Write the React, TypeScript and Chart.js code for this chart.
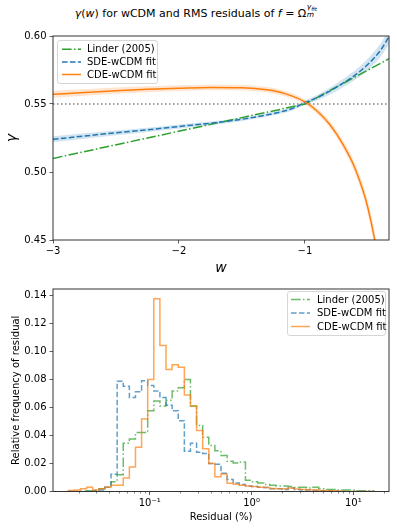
import React, { useEffect, useRef } from 'react';
import { Chart, registerables } from 'chart.js';

Chart.register(...registerables);
Chart.defaults.font.family = '"DejaVu Sans", sans-serif';
Chart.defaults.color = '#000';

// ---------------- Top panel data: gamma(w) ----------------
const wValues = [-3, -2.75, -2.5, -2.25, -2, -1.75, -1.5, -1.25, -1.1, -1, -0.9, -0.8, -0.7, -0.6, -0.5, -0.4, -0.333];
const sdeGamma = [0.524, 0.5265, 0.5288, 0.531, 0.5335, 0.5358, 0.5388, 0.543, 0.5467, 0.551, 0.5548, 0.5597, 0.5652, 0.5714, 0.5792, 0.5895, 0.5995];
const sdeErr = [0.0022, 0.002, 0.0018, 0.0016, 0.0015, 0.0014, 0.0013, 0.0013, 0.0014, 0.0016, 0.002, 0.0025, 0.003, 0.0036, 0.0043, 0.005, 0.0056];
const cdeGamma = [0.5571, 0.5585, 0.5598, 0.5608, 0.5616, 0.5622, 0.5619, 0.5597, 0.5558, 0.5515, 0.5445, 0.5345, 0.5205, 0.502, 0.4735, 0.4255, 0.38];
const cdeErr = [0.0025, 0.0024, 0.0023, 0.0022, 0.0021, 0.002, 0.002, 0.002, 0.002, 0.002, 0.0022, 0.0026, 0.003, 0.0038, 0.005, 0.007, 0.009];
const linderW = [-3, -1, -0.333];
const linderGamma = [0.51, 0.55, 0.5833];
const gammaRef = 0.55;
const topXMin = -3;
const topXMax = -0.333;
const topYMin = 0.45;
const topYMax = 0.6;
const topXTicks = [-3, -2, -1];
const topXTickLabels = ['−3', '−2', '−1'];
const topYTicks = [0.45, 0.5, 0.55, 0.6];
const topYTickLabels = ['0.45', '0.50', '0.55', '0.60'];
const seriesLabels = ['Linder (2005)', 'SDE-wCDM fit', 'CDE-wCDM fit'];

// ---------------- Bottom panel data: residual histograms ----------------
const binLogStart = -1.8;
const binLogWidth = 0.06;
const histLinder = [
  0, 0, 0, 0.0005, 0.001, 0.002, 0.003, 0.007, 0.012, 0.0344,
  0.0375, 0.042, 0.042, 0.0575, 0.0645, 0.061, 0.065, 0.0716, 0.0739, 0.0798,
  0.061, 0.047, 0.0386, 0.0328, 0.029, 0.0257, 0.0215, 0.0203, 0.021, 0.008,
  0.007, 0.006, 0.005, 0.0045, 0.004, 0.004, 0.0035, 0.003, 0.003, 0.0025,
  0.003, 0.002, 0.0015, 0.0015, 0.001, 0.001, 0.001, 0.0005, 0.0005, 0.0005,
];
const histSDE = [
  0, 0, 0, 0, 0.0005, 0.001, 0.003, 0.0123, 0.0786, 0.075,
  0.067, 0.071, 0.079, 0.0756, 0.0716, 0.0669, 0.0615, 0.0575, 0.0505, 0.0286,
  0.0344, 0.028, 0.027, 0.02, 0.0195, 0.013, 0.0085, 0.006, 0.005, 0.004,
  0.0035, 0.003, 0.0028, 0.002, 0.002, 0.0015, 0.0025, 0.0015, 0.001, 0.001,
  0.0008, 0.0005, 0.0005, 0.0003, 0, 0, 0, 0, 0, 0,
];
const histCDE = [
  0.0008, 0.001, 0.002, 0.003, 0.001, 0.002, 0.003, 0.0044, 0.0044, 0.0097,
  0.0175, 0.0316, 0.0516, 0.0798, 0.1374, 0.104, 0.0869, 0.0904, 0.0885, 0.0688,
  0.061, 0.0434, 0.0305, 0.0199, 0.0105, 0.0125, 0.0058, 0.0052, 0.0045, 0.004,
  0.0035, 0.003, 0.0028, 0.0022, 0.002, 0.002, 0.0025, 0.0018, 0.0015, 0.0012,
  0.001, 0.0008, 0.0005, 0.0005, 0.0003, 0, 0, 0, 0, 0,
];
const botXMin = Math.pow(10, -1.95);
const botXMax = Math.pow(10, 1.35);
const botYMax = 0.1443;
const botXTicks = [0.1, 1, 10];
const botXTickLabels = ['10⁻¹', '10⁰', '10¹'];
const botYTicks = [0, 0.02, 0.04, 0.06, 0.08, 0.1, 0.12, 0.14];
const botYTickLabels = ['0.00', '0.02', '0.04', '0.06', '0.08', '0.10', '0.12', '0.14'];

// ---------------- styling ----------------
const GREEN = '#2ca02c';
const BLUE = '#1f77b4';
const ORANGE = '#ff7f0e';
const DASH_DOT = [9.6, 2.4, 1.5, 2.4];
const DASHED = [5.55, 2.4];

const toPts = (xs: number[], ys: number[]) => xs.map((x, i) => ({ x, y: ys[i] }));

function histStep(values: number[]) {
  const edges = values.map((_, i) => Math.pow(10, binLogStart + i * binLogWidth));
  edges.push(Math.pow(10, binLogStart + values.length * binLogWidth));
  const pts = [{ x: edges[0], y: 0 }];
  values.forEach((v, i) => pts.push({ x: edges[i], y: v }));
  pts.push({ x: edges[values.length], y: 0 });
  return pts;
}

type LegendItem = { label: string; color: string; dash: number[] };
function makeLegend(id: string, cfg: { left: number; top: number; width: number; height: number; rows: number[]; sx0: number; sx1: number; tx: number; items: LegendItem[] }) {
  return {
    id,
    afterDraw(chart: any) {
      const ctx = chart.ctx as CanvasRenderingContext2D;
      ctx.save();
      ctx.beginPath();
      (ctx as any).roundRect(cfg.left + 0.5, cfg.top + 0.5, cfg.width, cfg.height, 2.5);
      ctx.fillStyle = 'rgba(255,255,255,0.8)';
      ctx.fill();
      ctx.strokeStyle = '#cccccc';
      ctx.lineWidth = 0.8;
      ctx.stroke();
      cfg.items.forEach((it, i) => {
        const y = cfg.rows[i];
        ctx.beginPath();
        ctx.setLineDash(it.dash);
        ctx.strokeStyle = it.color;
        ctx.lineWidth = 1.5;
        ctx.moveTo(cfg.sx0, y);
        ctx.lineTo(cfg.sx1, y);
        ctx.stroke();
        ctx.setLineDash([]);
        ctx.fillStyle = '#000';
        ctx.font = '10px "DejaVu Sans"';
        ctx.textBaseline = 'middle';
        ctx.textAlign = 'left';
        ctx.fillText(it.label, cfg.tx, y + 0.5);
      });
      ctx.restore();
    },
  };
}

const framePlugin = {
  id: 'frame',
  afterDraw(chart: any) {
    const { left, top, right, bottom } = chart.chartArea;
    const ctx = chart.ctx as CanvasRenderingContext2D;
    ctx.save();
    ctx.strokeStyle = '#333';
    ctx.lineWidth = 1;
    ctx.strokeRect(left, top, right - left, bottom - top);
    ctx.restore();
  },
};

const minorTickPlugin = {
  id: 'minorTicks',
  afterDraw(chart: any) {
    const sx = chart.scales.x;
    const ctx = chart.ctx as CanvasRenderingContext2D;
    const bottom = chart.chartArea.bottom;
    ctx.save();
    ctx.strokeStyle = '#333';
    ctx.lineWidth = 0.6;
    for (let k = -2; k <= 1; k++) {
      for (let m = 2; m <= 9; m++) {
        const v = m * Math.pow(10, k);
        if (v < botXMin || v > botXMax) continue;
        const px = Math.round(sx.getPixelForValue(v)) + 0.5;
        ctx.beginPath();
        ctx.moveTo(px, bottom);
        ctx.lineTo(px, bottom + 2);
        ctx.stroke();
      }
    }
    ctx.restore();
  },
};

const tickFont = { size: 10, family: '"DejaVu Sans"' };
const gridOpts = { display: true, drawOnChartArea: false, drawTicks: true, tickLength: 3.5, tickColor: '#333', tickWidth: 0.8 };

function TopChart() {
  const ref = useRef<HTMLCanvasElement>(null);
  useEffect(() => {
    const sdeLow = sdeGamma.map((g, i) => g - sdeErr[i]);
    const sdeHigh = sdeGamma.map((g, i) => g + sdeErr[i]);
    const cdeLow = cdeGamma.map((g, i) => g - cdeErr[i]);
    const cdeHigh = cdeGamma.map((g, i) => g + cdeErr[i]);
    const base = { pointRadius: 0, cubicInterpolationMode: 'monotone' as const };
    const chart = new Chart(ref.current!, {
      type: 'line',
      data: {
        datasets: [
          { ...base, label: 'sdeLow', data: toPts(wValues, sdeLow), borderWidth: 0, fill: false, order: 10 },
          { ...base, label: 'sdeHigh', data: toPts(wValues, sdeHigh), borderWidth: 0, fill: '-1', backgroundColor: 'rgba(31,119,180,0.2)', order: 9 },
          { ...base, label: 'cdeLow', data: toPts(wValues, cdeLow), borderWidth: 0, fill: false, order: 8 },
          { ...base, label: 'cdeHigh', data: toPts(wValues, cdeHigh), borderWidth: 0, fill: '-1', backgroundColor: 'rgba(255,127,14,0.2)', order: 7 },
          { pointRadius: 0, label: 'ref', data: [{ x: topXMin, y: gammaRef }, { x: topXMax, y: gammaRef }], borderColor: '#808080', borderWidth: 1.5, borderDash: [1.5, 2.5], order: 6 },
          { pointRadius: 0, label: seriesLabels[0], data: toPts(linderW, linderGamma), borderColor: GREEN, borderWidth: 1.5, borderDash: DASH_DOT, order: 3 },
          { ...base, label: seriesLabels[1], data: toPts(wValues, sdeGamma), borderColor: BLUE, borderWidth: 1.5, borderDash: DASHED, order: 2 },
          { ...base, label: seriesLabels[2], data: toPts(wValues, cdeGamma), borderColor: ORANGE, borderWidth: 1.5, order: 1 },
        ],
      },
      options: {
        animation: false,
        responsive: false,
        devicePixelRatio: 1,
        layout: { padding: { top: 10, right: 8, left: 0, bottom: 0 } },
        plugins: { legend: { display: false }, tooltip: { enabled: false } },
        scales: {
          x: {
            type: 'linear',
            min: topXMin,
            max: topXMax,
            afterBuildTicks: (s: any) => { s.ticks = topXTicks.map((v) => ({ value: v })); },
            afterFit: (s: any) => { s.height = 40; },
            ticks: { font: tickFont, color: '#000', padding: 2, maxRotation: 0, callback: (_v: any, i: number) => topXTickLabels[i] },
            grid: gridOpts,
            border: { display: false },
            title: { display: true, text: 'w', font: { size: 14, style: 'italic', family: '"DejaVu Sans"' }, padding: { top: 0, bottom: 3.6 } },
          },
          y: {
            type: 'linear',
            min: topYMin,
            max: topYMax,
            afterBuildTicks: (s: any) => { s.ticks = topYTicks.map((v) => ({ value: v })); },
            afterFit: (s: any) => { s.width = 53; },
            ticks: { font: tickFont, color: '#000', padding: 3, callback: (_v: any, i: number) => topYTickLabels[i] },
            grid: gridOpts,
            border: { display: false },
            title: { display: true, text: 'γ', font: { size: 14, style: 'italic', family: '"DejaVu Sans"' }, padding: { top: 3.6, bottom: 0 } },
          },
        },
      },
      plugins: [
        framePlugin,
        makeLegend('topLegend', {
          left: 57, top: 14, width: 100, height: 43, rows: [23.3, 36, 48.5], sx0: 62, sx1: 81, tx: 87,
          items: [
            { label: seriesLabels[0], color: GREEN, dash: DASH_DOT },
            { label: seriesLabels[1], color: BLUE, dash: DASHED },
            { label: seriesLabels[2], color: ORANGE, dash: [] },
          ],
        }),
      ],
    } as any);
    return () => chart.destroy();
  }, []);
  return <canvas ref={ref} width={397} height={254} style={{ position: 'absolute', left: 0, top: 26, width: 397, height: 254 }} />;
}

function BottomChart() {
  const ref = useRef<HTMLCanvasElement>(null);
  useEffect(() => {
    const stepBase = { pointRadius: 0, stepped: true as const, borderWidth: 1.5, fill: false };
    const chart = new Chart(ref.current!, {
      type: 'line',
      data: {
        datasets: [
          { ...stepBase, label: seriesLabels[0], data: histStep(histLinder), borderColor: 'rgba(44,160,44,0.7)', borderDash: DASH_DOT, order: 3 },
          { ...stepBase, label: seriesLabels[1], data: histStep(histSDE), borderColor: 'rgba(31,119,180,0.7)', borderDash: DASHED, order: 2 },
          { ...stepBase, label: seriesLabels[2], data: histStep(histCDE), borderColor: 'rgba(255,127,14,0.7)', order: 1 },
        ],
      },
      options: {
        animation: false,
        responsive: false,
        devicePixelRatio: 1,
        layout: { padding: { top: 7, right: 8, left: 0, bottom: 0 } },
        plugins: { legend: { display: false }, tooltip: { enabled: false } },
        scales: {
          x: {
            type: 'logarithmic',
            min: botXMin,
            max: botXMax,
            afterBuildTicks: (s: any) => { s.ticks = botXTicks.map((v) => ({ value: v })); },
            afterFit: (s: any) => { s.height = 36.5; },
            ticks: { font: tickFont, color: '#000', padding: 2, maxRotation: 0, autoSkip: false, callback: (_v: any, i: number) => botXTickLabels[i] },
            grid: gridOpts,
            border: { display: false },
            title: { display: true, text: 'Residual (%)', font: { size: 10, family: '"DejaVu Sans"' }, padding: { top: 0, bottom: 5 } },
          },
          y: {
            type: 'linear',
            min: 0,
            max: botYMax,
            afterBuildTicks: (s: any) => { s.ticks = botYTicks.map((v) => ({ value: v })); },
            afterFit: (s: any) => { s.width = 53; },
            ticks: { font: tickFont, color: '#000', padding: 3, autoSkip: false, callback: (_v: any, i: number) => botYTickLabels[i] },
            grid: gridOpts,
            border: { display: false },
            title: { display: true, text: 'Relative frequency of residual', font: { size: 10, family: '"DejaVu Sans"' }, padding: { top: 10, bottom: 0 } },
          },
        },
      },
      plugins: [
        framePlugin,
        minorTickPlugin,
        makeLegend('botLegend', {
          left: 287, top: 11, width: 98, height: 44, rows: [19.5, 33, 46.5], sx0: 291, sx1: 310, tx: 317,
          items: [
            { label: seriesLabels[0], color: 'rgba(44,160,44,0.7)', dash: DASH_DOT },
            { label: seriesLabels[1], color: 'rgba(31,119,180,0.7)', dash: DASHED },
            { label: seriesLabels[2], color: 'rgba(255,127,14,0.7)', dash: [] },
          ],
        }),
      ],
    } as any);
    return () => chart.destroy();
  }, []);
  return <canvas ref={ref} width={397} height={248} style={{ position: 'absolute', left: 0, top: 280, width: 397, height: 248 }} />;
}

function Title() {
  return (
    <div style={{ position: 'absolute', left: 0, top: 7, width: 397, textAlign: 'center', fontFamily: '"DejaVu Sans", sans-serif', fontSize: 11, lineHeight: '14px', color: '#000', whiteSpace: 'nowrap' }}>
      <i>γ</i>(<i>w</i>) for wCDM and RMS residuals of <i>f</i> = Ω
      <span style={{ position: 'relative', display: 'inline-block', width: 16, height: 10 }}>
        <span style={{ position: 'absolute', left: 0.5, top: -4, fontSize: 7.5, lineHeight: '8px' }}>
          <i>γ</i>
          <span style={{ fontSize: 5.5, position: 'relative', top: 1.5 }}><i>fit</i></span>
        </span>
        <span style={{ position: 'absolute', left: 0.5, top: 4, fontSize: 7.5, lineHeight: '8px' }}>
          <i>m</i>
        </span>
      </span>
    </div>
  );
}

export default function App() {
  return (
    <div style={{ position: 'fixed', left: 0, top: 0, width: 397, height: 528, background: '#fff', overflow: 'hidden' }}>
      <Title />
      <TopChart />
      <BottomChart />
    </div>
  );
}
